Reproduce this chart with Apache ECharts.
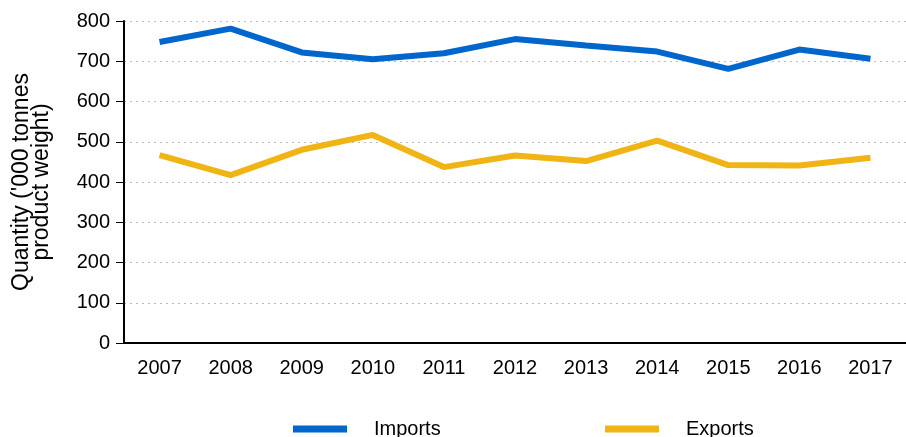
<!DOCTYPE html>
<html lang="en">
<head>
  <meta charset="UTF-8">
  <title>Imports and exports quantity 2007-2017</title>
  <script src="https://cdn.jsdelivr.net/npm/echarts@6/dist/echarts.min.js"></script>
  <style>
    body { margin: 0; padding: 0; background: #fff; }
    #chart { width: 906px; height: 437px; }
  </style>
</head>
<body>
  <div id="chart"></div>
  <script>
    // data ('000 tonnes product weight)
    const years = ['2007', '2008', '2009', '2010', '2011', '2012', '2013', '2014', '2015', '2016', '2017'];
    const imports = [748, 781, 722, 705, 720, 755, 739, 724, 681, 729, 706];
    const exports = [467, 417, 480, 517, 437, 466, 452, 503, 442, 441, 460];

    const chart = echarts.init(document.getElementById('chart'));
    const font = 'Liberation Sans, Arial, sans-serif';

    const legendBase = {
      top: 419,
      padding: 0,
      icon: 'rect',
      itemWidth: 54,
      itemHeight: 7,
      textStyle: { color: '#000', fontSize: 20, fontFamily: font, padding: [0, 0, 0, 22] }
    };

    chart.setOption({
      animation: false,
      legend: [
        Object.assign({ left: 293, data: ['Imports'] }, legendBase),
        Object.assign({ left: 605, data: ['Exports'] }, legendBase)
      ],
      grid: { left: 124, right: 0, top: 21, bottom: 94 },
      xAxis: {
        type: 'category',
        data: years,
        axisLine: { lineStyle: { color: '#000', width: 2 } },
        axisTick: { alignWithLabel: true, length: 8, lineStyle: { color: '#000' } },
        axisLabel: { color: '#000', fontSize: 20, fontFamily: font, margin: 15 }
      },
      yAxis: {
        type: 'value',
        min: 0,
        max: 800,
        interval: 100,
        name: "Quantity ('000 tonnes\nproduct weight)",
        nameLocation: 'middle',
        nameGap: 72,
        nameTextStyle: { color: '#000', fontSize: 23, fontFamily: font, lineHeight: 20 },
        axisLine: { show: true, lineStyle: { color: '#000', width: 2 } },
        axisTick: { show: true, length: 8, lineStyle: { color: '#000' } },
        axisLabel: { color: '#000', fontSize: 20, fontFamily: font, margin: 14 },
        splitLine: { lineStyle: { color: '#bbb', type: [2, 4], width: 1 } }
      },
      series: [
        {
          name: 'Imports',
          type: 'line',
          data: imports,
          symbol: 'none',
          color: '#0066CC',
          lineStyle: { width: 6, color: '#0066CC' }
        },
        {
          name: 'Exports',
          type: 'line',
          data: exports,
          symbol: 'none',
          color: '#F0B414',
          lineStyle: { width: 6, color: '#F0B414' }
        }
      ]
    });
  </script>
</body>
</html>
